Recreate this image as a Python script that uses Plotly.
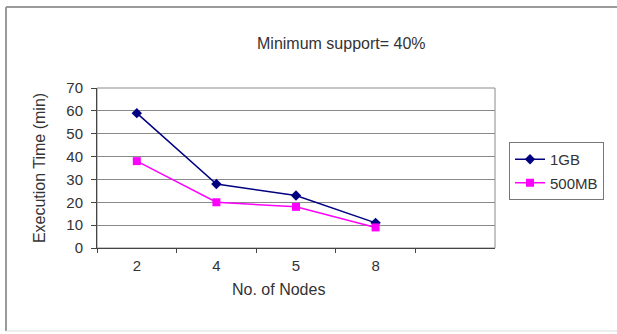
import plotly.graph_objects as go

# Execution time (minutes) by number of nodes, minimum support 40%
nodes = ["2", "4", "5", "8"]
time_1gb = [59, 28, 23, 11]
time_500mb = [38, 20, 18, 9]
y_ticks = [0, 10, 20, 30, 40, 50, 60, 70]

FONT = "Liberation Sans, Arial, sans-serif"
W, H = 617, 334
L, R, T, B = 97, 122, 88, 86
PW, PH = W - L - R, H - T - B


def px_x(x):
    return (x - L) / PW


def px_y(y):
    return (H - B - y) / PH


fig = go.Figure()
fig.add_trace(go.Scatter(
    x=nodes, y=time_1gb, name="1GB", mode="lines+markers",
    line=dict(color="#000080", width=1.5),
    marker=dict(symbol="diamond", size=8, color="#000080"),
    legendgroup="a",
))
fig.add_trace(go.Scatter(
    x=nodes, y=time_500mb, name="500MB", mode="lines+markers",
    line=dict(color="#FF00FF", width=1.5),
    marker=dict(symbol="square", size=8, color="#FF00FF"),
    legendgroup="b",
))

fig.update_layout(
    width=W, height=H,
    margin=dict(l=L, r=R, t=T, b=B),
    paper_bgcolor="white", plot_bgcolor="white",
    font=dict(family=FONT, size=15, color="#333333"),
    showlegend=True,
    legend=dict(
        x=px_x(509), y=px_y(142), xanchor="left", yanchor="top",
        bordercolor="#777777", borderwidth=1, bgcolor="white",
        font=dict(size=15), tracegroupgap=1,
        itemwidth=30,
    ),
)

fig.update_xaxes(
    type="category", categoryorder="array", categoryarray=nodes,
    range=[-0.5, 4.5], tickson="boundaries",
    ticks="outside", ticklen=4, tickcolor="#444444",
    showline=True, linecolor="#444444", linewidth=1, mirror=False,
    showgrid=False, zeroline=False,
    tickfont=dict(size=15), ticklabelstandoff=4,
)
fig.update_yaxes(
    range=[0, 70], tickvals=y_ticks,
    ticks="outside", ticklen=5, tickcolor="#444444",
    showline=True, linecolor="#444444", linewidth=1,
    showgrid=True, gridcolor="#8a8a8a", gridwidth=1,
    zeroline=False, tickfont=dict(size=15), ticklabelstandoff=5,
    title=dict(text="Execution Time (min)", font=dict(size=16), standoff=16),
)

# Plot-area frame (top and right edges)
fig.add_shape(type="rect", xref="paper", yref="paper", x0=0, y0=0, x1=1, y1=1,
              line=dict(color="#8a8a8a", width=1), layer="below")

# Chart title and x-axis title
fig.add_annotation(text="Minimum support= 40%", xref="paper", yref="paper",
                   x=px_x(341), y=px_y(33), showarrow=False,
                   font=dict(size=16, color="#333333"))
fig.add_annotation(text="No. of Nodes", xref="paper", yref="paper",
                   x=px_x(278), y=px_y(300), showarrow=False,
                   font=dict(size=16, color="#333333"))

# Outer chart border: left, top and bottom edges only
border = dict(color="#9a9a9a", width=2)
fig.add_shape(type="line", xref="paper", yref="paper",
              x0=px_x(6), x1=px_x(6), y0=px_y(331), y1=px_y(7), line=border)
fig.add_shape(type="line", xref="paper", yref="paper",
              x0=px_x(6), x1=px_x(W), y0=px_y(7), y1=px_y(7), line=border)
fig.add_shape(type="line", xref="paper", yref="paper",
              x0=px_x(6), x1=px_x(W), y0=px_y(331), y1=px_y(331),
              line=dict(color="#dddddd", width=1))

fig.write_html("out.html")
